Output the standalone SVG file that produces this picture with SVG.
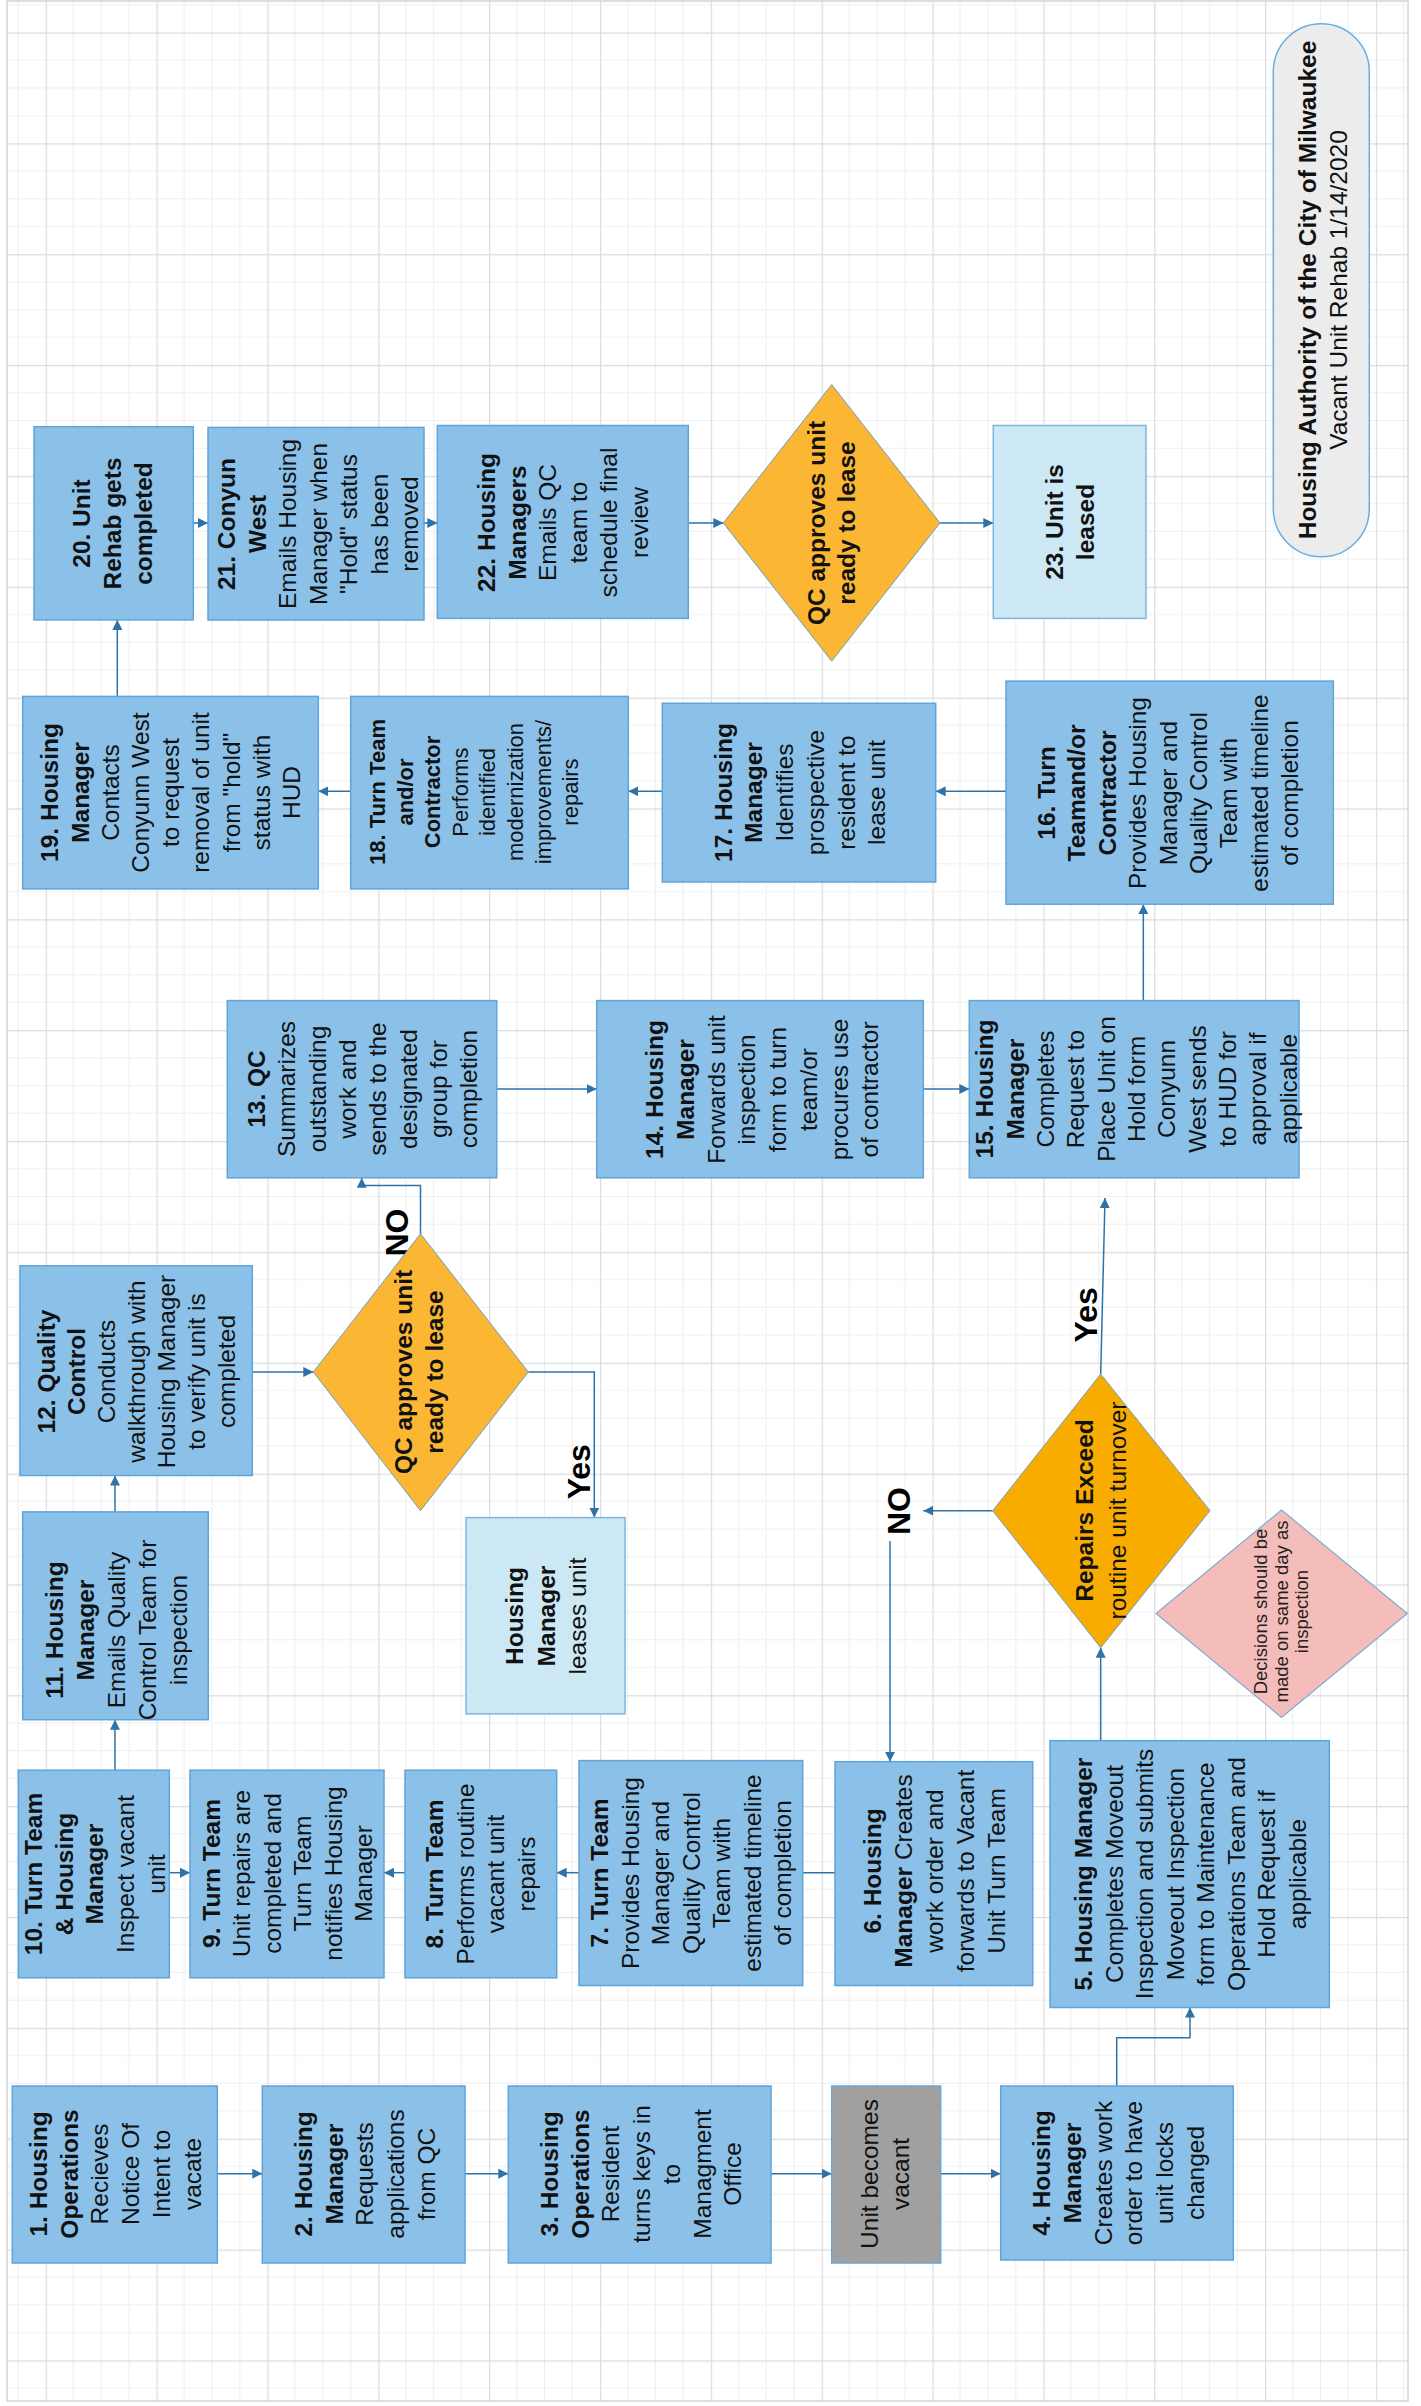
<svg xmlns="http://www.w3.org/2000/svg" width="1421" height="2406" viewBox="0 0 1421 2406">
<style>
.n{fill:#8bc1e8;stroke:#5fa4da;stroke-width:1.5}
.l{fill:#cde8f5;stroke:#7ab6e0;stroke-width:1.5}
.g{fill:#a0a0a0;stroke:#6aa6d8;stroke-width:1.5}
.dq{fill:#fbb733;stroke:#6b9fc4;stroke-width:1}
.dr{fill:#f8ac00;stroke:#6b9fc4;stroke-width:1}
.dp{fill:#f5bdba;stroke:#7eaad4;stroke-width:1.2}
.t text{font-family:"Liberation Sans",Arial,sans-serif;font-size:24.5px;text-anchor:middle;fill:#111}
.s text{font-size:22px}
.p text{font-size:18.5px;fill:#222}
.b{font-weight:bold}
.c{fill:none;stroke:#2f72a8;stroke-width:1.5}
.lab{font-family:"Liberation Sans",Arial,sans-serif;font-size:32px;font-weight:bold;text-anchor:middle;fill:#000}
</style>
<defs>
<pattern id="grid" x="45.7" y="32.5" width="110.85" height="110.85" patternUnits="userSpaceOnUse">
<path d="M27.71 0V110.85M55.43 0V110.85M83.14 0V110.85M0 27.71H110.85M0 55.43H110.85M0 83.14H110.85" stroke="#efefef" stroke-width="1.2" fill="none"/>
<path d="M0 0V110.85M0 0H110.85" stroke="#dcdcdc" stroke-width="2.4" fill="none"/>
</pattern>
<marker id="ah" viewBox="0 0 10 10" refX="10" refY="5" markerWidth="10" markerHeight="10" markerUnits="userSpaceOnUse" orient="auto">
<path d="M0 0L10 5L0 10z" fill="#2f72a8"/>
</marker>
</defs>
<rect width="1421" height="2406" fill="#fff"/>
<rect x="7" y="1" width="1401" height="2400" fill="url(#grid)" stroke="#d4d4d4" stroke-width="1.5"/>

<g id="connectors">
<path class="c" marker-end="url(#ah)" d="M217.3 2173.7H262.3"/>
<path class="c" marker-end="url(#ah)" d="M465 2173.7H508.3"/>
<path class="c" marker-end="url(#ah)" d="M771 2173.7H831.7"/>
<path class="c" marker-end="url(#ah)" d="M940.7 2173.7H1000.7"/>
<path class="c" marker-end="url(#ah)" d="M1116.7 2086V2037.7H1190V2007.5"/>
<path class="c" marker-end="url(#ah)" d="M1100.7 1740.7V1647.7"/>
<path class="c" marker-end="url(#ah)" d="M992.7 1510.7H923.3"/>
<path class="c" marker-end="url(#ah)" d="M890 1541V1761.7"/>
<path class="c" marker-end="url(#ah)" d="M1100.7 1374.1L1105 1198"/>
<path class="c" d="M835 1872.7H802.7"/>
<path class="c" marker-end="url(#ah)" d="M579 1872.7H556.7"/>
<path class="c" marker-end="url(#ah)" d="M405 1872.7H384"/>
<path class="c" marker-end="url(#ah)" d="M169.3 1872.7H190"/>
<path class="c" marker-end="url(#ah)" d="M115 1770.2V1719.7"/>
<path class="c" marker-end="url(#ah)" d="M115 1511.9V1475.5"/>
<path class="c" marker-end="url(#ah)" d="M252.3 1372H313.3"/>
<path class="c" marker-end="url(#ah)" d="M420.5 1233.7V1185.5H361.7V1177.8"/>
<path class="c" marker-end="url(#ah)" d="M528.3 1372H594.3V1517.6"/>
<path class="c" marker-end="url(#ah)" d="M496.7 1089H596.7"/>
<path class="c" marker-end="url(#ah)" d="M923.3 1089H969.3"/>
<path class="c" marker-end="url(#ah)" d="M1143.3 1000.6V904.2"/>
<path class="c" marker-end="url(#ah)" d="M1006 791.3H935.7"/>
<path class="c" marker-end="url(#ah)" d="M662.3 791.3H628.3"/>
<path class="c" marker-end="url(#ah)" d="M350.7 791.3H318.3"/>
<path class="c" marker-end="url(#ah)" d="M117.3 696.4V619.9"/>
<path class="c" marker-end="url(#ah)" d="M193.3 523H208"/>
<path class="c" marker-end="url(#ah)" d="M424 523H437.3"/>
<path class="c" marker-end="url(#ah)" d="M688.3 523H723.3"/>
<path class="c" marker-end="url(#ah)" d="M940 523H993.3"/>
<g transform="translate(0 1232.5) rotate(-90)"><text class="lab" y="408.3">NO</text></g>
<g transform="translate(0 1471.7) rotate(-90)"><text class="lab" y="590">Yes</text></g>
<g transform="translate(0 1511) rotate(-90)"><text class="lab" y="910">NO</text></g>
<g transform="translate(0 1314.8) rotate(-90)"><text class="lab" y="1096.7">Yes</text></g>
</g>

<g id="n1"><rect class="n" x="12.3" y="2086" width="205" height="177"/>
<g class="t" transform="translate(0 2174) rotate(-90)"><text class="b" y="46.7">1. Housing</text><text class="b" y="77.5">Operations</text><text y="108.3">Recieves</text><text y="139">Notice Of</text><text y="170">Intent to</text><text y="200.7">vacate</text></g></g>

<g id="n2"><rect class="n" x="262.3" y="2086" width="202.7" height="177"/>
<g class="t" transform="translate(0 2174) rotate(-90)"><text class="b" y="311.7">2. Housing</text><text class="b" y="342.5">Manager</text><text y="373.3">Requests</text><text y="404">applications</text><text y="434.8">from QC</text></g></g>

<g id="n3"><rect class="n" x="508.3" y="2086" width="262.7" height="177"/>
<g class="t" transform="translate(0 2174) rotate(-90)"><text class="b" y="558.3">3. Housing</text><text class="b" y="588.8">Operations</text><text y="619.3">Resident</text><text y="649.8">turns keys in</text><text y="680.3">to</text><text y="710.8">Managment</text><text y="741.3">Office</text></g></g>

<g id="vacant"><rect class="g" x="831.7" y="2086" width="109" height="177"/>
<g class="t" transform="translate(0 2174) rotate(-90)"><text y="878.3">Unit becomes</text><text y="908.8">vacant</text></g></g>

<g id="n4"><rect class="n" x="1000.7" y="2086" width="232.6" height="174"/>
<g class="t" transform="translate(0 2173) rotate(-90)"><text class="b" y="1050">4. Housing</text><text class="b" y="1080.8">Manager</text><text y="1111.6">Creates work</text><text y="1142.4">order to have</text><text y="1173.2">unit locks</text><text y="1204">changed</text></g></g>

<g id="n5"><rect class="n" x="1050" y="1740.7" width="279.3" height="266.8"/>
<g class="t" transform="translate(0 1874) rotate(-90)"><text class="b" y="1092">5. Housing Manager</text><text y="1122.5">Completes Moveout</text><text y="1153">Inspection and submits</text><text y="1183.5">Moveout Inspection</text><text y="1214">form to Maintenance</text><text y="1244.5">Operations Team and</text><text y="1275">Hold Request if</text><text y="1305.5">applicable</text></g></g>

<g id="n6"><rect class="n" x="835" y="1761.7" width="197.7" height="223.8"/>
<g class="t" transform="translate(0 1871) rotate(-90)"><text class="b" y="881">6. Housing</text><text y="912"><tspan class="b">Manager</tspan> Creates</text><text y="943">work order and</text><text y="974">forwards to Vacant</text><text y="1005">Unit Turn Team</text></g></g>

<g id="n7"><rect class="n" x="579" y="1760.6" width="223.7" height="224.9"/>
<g class="t" transform="translate(0 1873) rotate(-90)"><text class="b" y="608">7. Turn Team</text><text y="638.5">Provides Housing</text><text y="669">Manager and</text><text y="699.5">Quality Control</text><text y="730">Team with</text><text y="760.5">estimated timeline</text><text y="791">of completion</text></g></g>

<g id="n8"><rect class="n" x="405" y="1770.2" width="151.7" height="207.6"/>
<g class="t" transform="translate(0 1874) rotate(-90)"><text class="b" y="443">8. Turn Team</text><text y="473.5">Performs routine</text><text y="504">vacant unit</text><text y="534.5">repairs</text></g></g>

<g id="n9"><rect class="n" x="190" y="1770.2" width="194" height="207.6"/>
<g class="t" transform="translate(0 1873.5) rotate(-90)"><text class="b" y="220">9. Turn Team</text><text y="250.4">Unit repairs are</text><text y="280.8">completed and</text><text y="311.2">Turn Team</text><text y="341.6">notifies Housing</text><text y="372">Manager</text></g></g>

<g id="n10"><rect class="n" x="18.3" y="1770.2" width="151" height="207.6"/>
<g class="t" transform="translate(0 1874) rotate(-90)"><text class="b" y="41.7">10. Turn Team</text><text class="b" y="72.5">&amp; Housing</text><text class="b" y="103.3">Manager</text><text y="134">Inspect vacant</text><text y="165">unit</text></g></g>

<g id="n11"><rect class="n" x="22.7" y="1511.9" width="185.6" height="207.8"/>
<g class="t" transform="translate(0 1630) rotate(-90)"><text class="b" y="63.3">11. Housing</text><text class="b" y="94.1">Manager</text><text y="124.9">Emails Quality</text><text y="155.7">Control Team for</text><text y="186.5">inspection</text></g></g>

<g id="n12"><rect class="n" x="20" y="1265.8" width="232.3" height="209.7"/>
<g class="t" transform="translate(0 1371.5) rotate(-90)"><text class="b" y="55">12. Quality</text><text class="b" y="85">Control</text><text y="115">Conducts</text><text y="145">walkthrough with</text><text y="175">Housing Manager</text><text y="205">to verify unit is</text><text y="235">completed</text></g></g>

<g id="d2"><polygon class="dq" points="420.5,1233.7 528.3,1372 420.5,1510.7 313.3,1372"/>
<g class="t" transform="translate(0 1372) rotate(-90)"><text class="b" y="412">QC approves unit</text><text class="b" y="443">ready to lease</text></g></g>

<g id="leases"><rect class="l" x="466" y="1517.6" width="159" height="196.3"/>
<g class="t" transform="translate(0 1616) rotate(-90)"><text class="b" y="523.3">Housing</text><text class="b" y="555">Manager</text><text y="586">leases unit</text></g></g>

<g id="d3"><polygon class="dr" points="1100.7,1374.1 1210,1510.7 1100.7,1647.7 992.7,1510.7"/>
<g class="t" transform="translate(0 1510.5) rotate(-90)"><text class="b" y="1093.3">Repairs Exceed</text><text y="1126">routine unit turnover</text></g></g>

<g id="note"><polygon class="dp" points="1281.5,1510 1407.3,1613.5 1281.5,1717.4 1156,1613.5"/>
<g class="t p" transform="translate(0 1611.5) rotate(-90)"><text y="1266.7">Decisions should be</text><text y="1287.5">made on same day as</text><text y="1308.3">inspection</text></g></g>

<g id="n13"><rect class="n" x="227.3" y="1000.6" width="269.4" height="177.2"/>
<g class="t" transform="translate(0 1089) rotate(-90)"><text class="b" y="265">13. QC</text><text y="295.3">Summarizes</text><text y="325.6">outstanding</text><text y="355.9">work and</text><text y="386.2">sends to the</text><text y="416.5">designated</text><text y="446.8">group for</text><text y="477.1">completion</text></g></g>

<g id="n14"><rect class="n" x="596.7" y="1000.6" width="326.6" height="177.2"/>
<g class="t" transform="translate(0 1089.5) rotate(-90)"><text class="b" y="663.3">14. Housing</text><text class="b" y="694">Manager</text><text y="724.7">Forwards unit</text><text y="755.4">inspection</text><text y="786.1">form to turn</text><text y="816.8">team/or</text><text y="847.5">procures use</text><text y="878.2">of contractor</text></g></g>

<g id="n15"><rect class="n" x="969.3" y="1000.6" width="329.7" height="177.2"/>
<g class="t" transform="translate(0 1089) rotate(-90)"><text class="b" y="993.3">15. Housing</text><text class="b" y="1023.6">Manager</text><text y="1054">Completes</text><text y="1084.3">Request to</text><text y="1114.7">Place Unit on</text><text y="1145">Hold form</text><text y="1175.3">Conyunn</text><text y="1205.7">West sends</text><text y="1236">to HUD for</text><text y="1266.4">approval if</text><text y="1296.7">applicable</text></g></g>

<g id="n16"><rect class="n" x="1006" y="681.1" width="327.3" height="223.1"/>
<g class="t" transform="translate(0 793) rotate(-90)"><text class="b" y="1055">16. Turn</text><text class="b" y="1085.4">Teamand/or</text><text class="b" y="1115.8">Contractor</text><text y="1146.2">Provides Housing</text><text y="1176.6">Manager and</text><text y="1207">Quality Control</text><text y="1237.4">Team with</text><text y="1267.8">estimated timeline</text><text y="1298.2">of completion</text></g></g>

<g id="n17"><rect class="n" x="662.3" y="703.3" width="273.4" height="178.7"/>
<g class="t" transform="translate(0 792.5) rotate(-90)"><text class="b" y="731.7">17. Housing</text><text class="b" y="762.4">Manager</text><text y="793.1">Identifies</text><text y="823.8">prospective</text><text y="854.5">resident to</text><text y="885.2">lease unit</text></g></g>

<g id="n18"><rect class="n" x="350.7" y="696.4" width="277.6" height="192.5"/>
<g class="t s" transform="translate(0 792) rotate(-90)"><text class="b" y="385">18. Turn Team</text><text class="b" y="412.6">and/or</text><text class="b" y="440.2">Contractor</text><text y="467.8">Performs</text><text y="495.4">identified</text><text y="523">modernization</text><text y="550.6">improvements/</text><text y="578.2">repairs</text></g></g>

<g id="n19"><rect class="n" x="22.7" y="696.4" width="295.6" height="192.5"/>
<g class="t" transform="translate(0 792.5) rotate(-90)"><text class="b" y="58.3">19. Housing</text><text class="b" y="88.5">Manager</text><text y="118.7">Contacts</text><text y="148.9">Conyunn West</text><text y="179.1">to request</text><text y="209.3">removal of unit</text><text y="239.5">from "hold"</text><text y="269.7">status with</text><text y="299.9">HUD</text></g></g>

<g id="n20"><rect class="n" x="34" y="426.7" width="159.3" height="193.2"/>
<g class="t" transform="translate(0 523.5) rotate(-90)"><text class="b" y="89.5">20. Unit</text><text class="b" y="120.5">Rehab gets</text><text class="b" y="151.5">completed</text></g></g>

<g id="n21"><rect class="n" x="208" y="427.4" width="216" height="192.6"/>
<g class="t" transform="translate(0 524) rotate(-90)"><text class="b" y="235">21. Conyun</text><text class="b" y="265.5">West</text><text y="296">Emails Housing</text><text y="326.6">Manager when</text><text y="357.2">"Hold" status</text><text y="387.8">has been</text><text y="418.3">removed</text></g></g>

<g id="n22"><rect class="n" x="437.3" y="425.5" width="251" height="192.9"/>
<g class="t" transform="translate(0 522.5) rotate(-90)"><text class="b" y="495">22. Housing</text><text class="b" y="525.6">Managers</text><text y="556.2">Emails QC</text><text y="586.8">team to</text><text y="617.4">schedule final</text><text y="648">review</text></g></g>

<g id="d1"><polygon class="dq" points="831.7,384.6 940,523 831.7,661.2 723.3,523"/>
<g class="t" transform="translate(0 523) rotate(-90)"><text class="b" y="825">QC approves unit</text><text class="b" y="855">ready to lease</text></g></g>

<g id="n23"><rect class="l" x="993.3" y="425.5" width="152.7" height="192.9"/>
<g class="t" transform="translate(0 522) rotate(-90)"><text class="b" y="1063.3">23. Unit is</text><text class="b" y="1094">leased</text></g></g>

<g id="title"><rect x="1273.3" y="23.7" width="96" height="533.1" rx="48" fill="#ececec" stroke="#6aaee0" stroke-width="1.5"/>
<g class="t" transform="translate(0 290) rotate(-90)"><text class="b" y="1316">Housing Authority of the City of Milwaukee</text><text y="1347.3">Vacant Unit Rehab 1/14/2020</text></g></g>
</svg>
